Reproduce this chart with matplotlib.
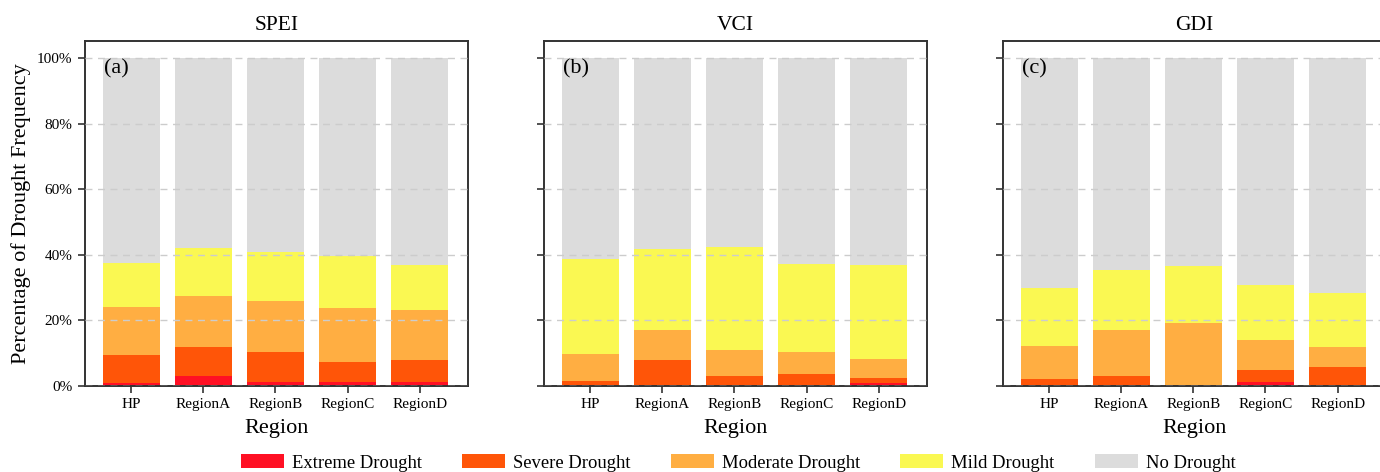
import numpy as np
import matplotlib.pyplot as plt
from matplotlib.patches import Patch

plt.rcParams['font.family'] = ['Liberation Serif', 'DejaVu Serif']

regions = ['HP', 'RegionA', 'RegionB', 'RegionC', 'RegionD']
indices = ['SPEI', 'VCI', 'GDI']
panel_tags = ['(a)', '(b)', '(c)']
levels = ['Extreme Drought', 'Severe Drought', 'Moderate Drought', 'Mild Drought', 'No Drought']
colors = ['#ff1024', '#ff5508', '#ffae42', '#faf852', '#dcdcdc']

# percentage of each drought level (%), per region
spei_extreme = [0.8, 2.9, 1.2, 1.2, 1.2]
spei_severe = [8.7, 8.8, 9.2, 6.1, 6.5]
spei_moderate = [14.4, 15.7, 15.4, 16.3, 15.4]
spei_mild = [13.6, 14.7, 15.0, 15.9, 13.6]

vci_extreme = [0.0, 0.0, 0.0, 0.0, 0.8]
vci_severe = [1.5, 7.8, 2.9, 3.5, 1.6]
vci_moderate = [8.3, 9.2, 8.1, 6.9, 5.8]
vci_mild = [28.8, 24.6, 31.2, 26.8, 28.5]

gdi_extreme = [0.0, 0.0, 0.0, 1.2, 0.0]
gdi_severe = [1.9, 2.9, 0.3, 3.6, 5.7]
gdi_moderate = [10.2, 14.1, 18.9, 9.1, 6.1]
gdi_mild = [17.7, 18.4, 17.2, 16.7, 16.6]

data = [
    [spei_extreme, spei_severe, spei_moderate, spei_mild],
    [vci_extreme, vci_severe, vci_moderate, vci_mild],
    [gdi_extreme, gdi_severe, gdi_moderate, gdi_mild],
]

fig = plt.figure(figsize=(13.8, 4.72), dpi=100)
lefts = [0.0616, 0.3942, 0.7268]
x = np.arange(len(regions))

for k in range(3):
    ax = fig.add_axes([lefts[k], 0.183, 0.2775, 0.730])
    bottom = np.zeros(len(regions))
    for j in range(4):
        vals = np.array(data[k][j])
        ax.bar(x, vals, 0.79, bottom=bottom, color=colors[j], zorder=2)
        bottom += vals
    ax.bar(x, 100 - bottom, 0.79, bottom=bottom, color=colors[4], zorder=2)

    ax.set_xlim(-0.64, 4.67)
    ax.set_ylim(0, 105.2)
    ax.set_yticks([0, 20, 40, 60, 80, 100])
    ax.yaxis.grid(True, linestyle=(0, (5, 4)), color='#cccccc', linewidth=1.0, zorder=3)
    ax.set_axisbelow(False)
    ax.set_xticks(x)
    ax.set_xticklabels(regions, fontsize=11)
    if k == 0:
        ax.set_yticklabels(['%d%%' % v for v in [0, 20, 40, 60, 80, 100]], fontsize=11)
        ax.set_ylabel('Percentage of Drought Frequency', fontsize=16, labelpad=4)
    else:
        ax.set_yticklabels([])
    ax.set_xlabel('Region', fontsize=16, labelpad=6)
    ax.set_title(indices[k], fontsize=15.5, pad=8)
    ax.text(0.05, 0.92, panel_tags[k], transform=ax.transAxes, fontsize=16, va='center')
    for s in ax.spines.values():
        s.set_linewidth(1.4)
        s.set_color('#333333')
    ax.tick_params(length=5, width=1.2, color='#333333', pad=4)

handles = [Patch(facecolor=c, edgecolor='none') for c in colors]
fig.legend(handles, levels, loc='lower center', bbox_to_anchor=(0.535, -0.035), ncol=5,
           frameon=False, fontsize=13.4, handlelength=2.3, handleheight=0.75,
           columnspacing=2.15, handletextpad=0.45)

fig.savefig('out.png', dpi=100)
